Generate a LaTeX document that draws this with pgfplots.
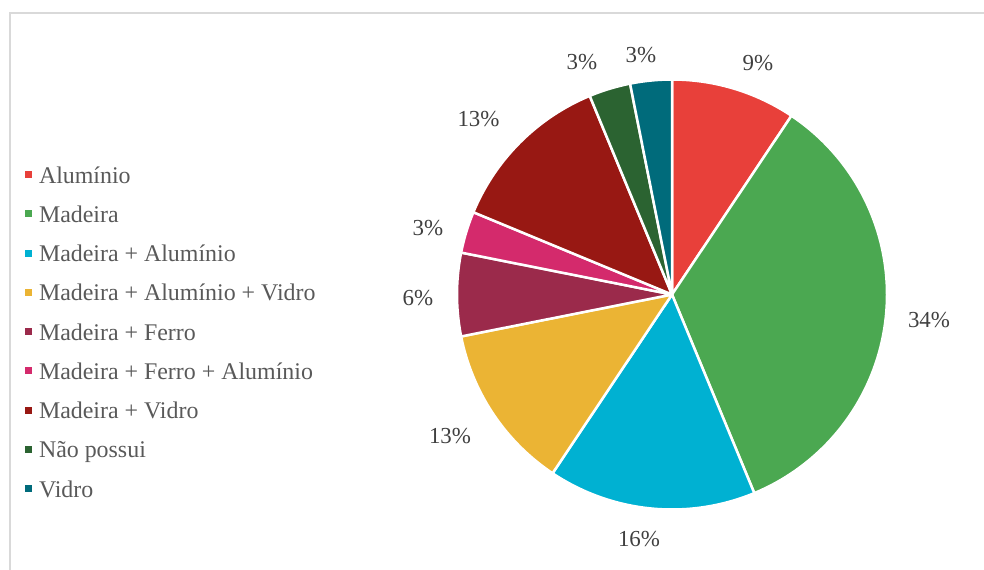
\documentclass[border=0pt]{standalone}
\usepackage{fontspec}
\setmainfont{Liberation Serif}
\usepackage{pgfplots}
\usepackage{pgfplotstable}
\pgfplotsset{compat=1.18}
\definecolor{cA}{HTML}{E8403A}
\definecolor{cB}{HTML}{4BA851}
\definecolor{cC}{HTML}{00B1D2}
\definecolor{cD}{HTML}{EBB434}
\definecolor{cE}{HTML}{9B2A4B}
\definecolor{cF}{HTML}{D42A6C}
\definecolor{cG}{HTML}{981813}
\definecolor{cH}{HTML}{2B6331}
\definecolor{cI}{HTML}{006B7B}
\definecolor{legtext}{HTML}{595959}
\definecolor{lbltext}{HTML}{404040}
\definecolor{borderc}{HTML}{D9D9D9}
\tikzset{lbl/.style={font=\fontsize{23}{27}\selectfont, text=lbltext, anchor=base, inner sep=0pt}}
\pgfplotstableread{
count color
3 cA
11 cB
5 cC
4 cD
2 cE
1 cF
4 cG
1 cH
1 cI
}\piedata
\begin{document}
\begin{tikzpicture}
\path[use as bounding box] (0,0) rectangle (984bp,570bp);
\pgfmathsetmacro\total{0}
\pgfplotsforeachungrouped \i in {0,...,8}{%
  \pgfplotstablegetelem{\i}{count}\of\piedata
  \pgfmathsetmacro\total{\total+\pgfplotsretval}%
}
\begin{axis}[at={(0,0)}, anchor=south west, scale only axis,
  width=984bp, height=570bp, xmin=0, xmax=984, ymin=0, ymax=570,
  y dir=reverse, hide axis, clip=false,
  legend entries={Alumínio, Madeira, Madeira + Alumínio, Madeira + Alumínio + Vidro, Madeira + Ferro, Madeira + Ferro + Alumínio, Madeira + Vidro, Não possui, Vidro},
  legend cell align=left,
  legend style={draw=none, fill=none, at={(axis cs:25,166)}, anchor=north west,
    inner sep=0pt, outer sep=0pt, /tikz/row sep=17.25bp, /tikz/column sep=7bp,
    font=\fontsize{24}{28}\selectfont, text=legtext,
    nodes={text height=17bp, text depth=5bp, inner sep=0pt}},
  legend image code/.code={\fill[#1, draw=none] (0bp,-1bp) rectangle (7bp,6bp);},
]
\pgfmathsetmacro\cum{0}
\pgfplotsforeachungrouped \i in {0,...,8}{%
  \pgfplotstablegetelem{\i}{count}\of\piedata
  \let\cnt\pgfplotsretval
  \pgfplotstablegetelem{\i}{color}\of\piedata
  \let\col\pgfplotsretval
  \pgfmathsetmacro\a{\cum*360/\total}%
  \pgfmathsetmacro\cum{\cum+\cnt}%
  \pgfmathsetmacro\b{\cum*360/\total}%
  \edef\temp{\noexpand\addplot[fill=\col, draw=white, line width=2.5bp, line join=round, domain=\a:\b, samples=80] ({672+215*sin(x)},{294.5-215*cos(x)}) -- (axis cs:672,294.5) -- cycle;}%
  \temp
}
\draw[borderc, line width=2bp] (axis cs:9.7,600) -- (axis cs:9.7,13) -- (axis cs:1000,13);
\node[lbl] at (axis cs:758,70) {9\%};
\node[lbl] at (axis cs:929,327.5) {34\%};
\node[lbl] at (axis cs:639,546.5) {16\%};
\node[lbl] at (axis cs:450,443) {13\%};
\node[lbl] at (axis cs:418,305) {6\%};
\node[lbl] at (axis cs:428,235) {3\%};
\node[lbl] at (axis cs:478.5,126.5) {13\%};
\node[lbl] at (axis cs:582,69) {3\%};
\node[lbl] at (axis cs:641,62) {3\%};
\end{axis}
\end{tikzpicture}
\end{document}
